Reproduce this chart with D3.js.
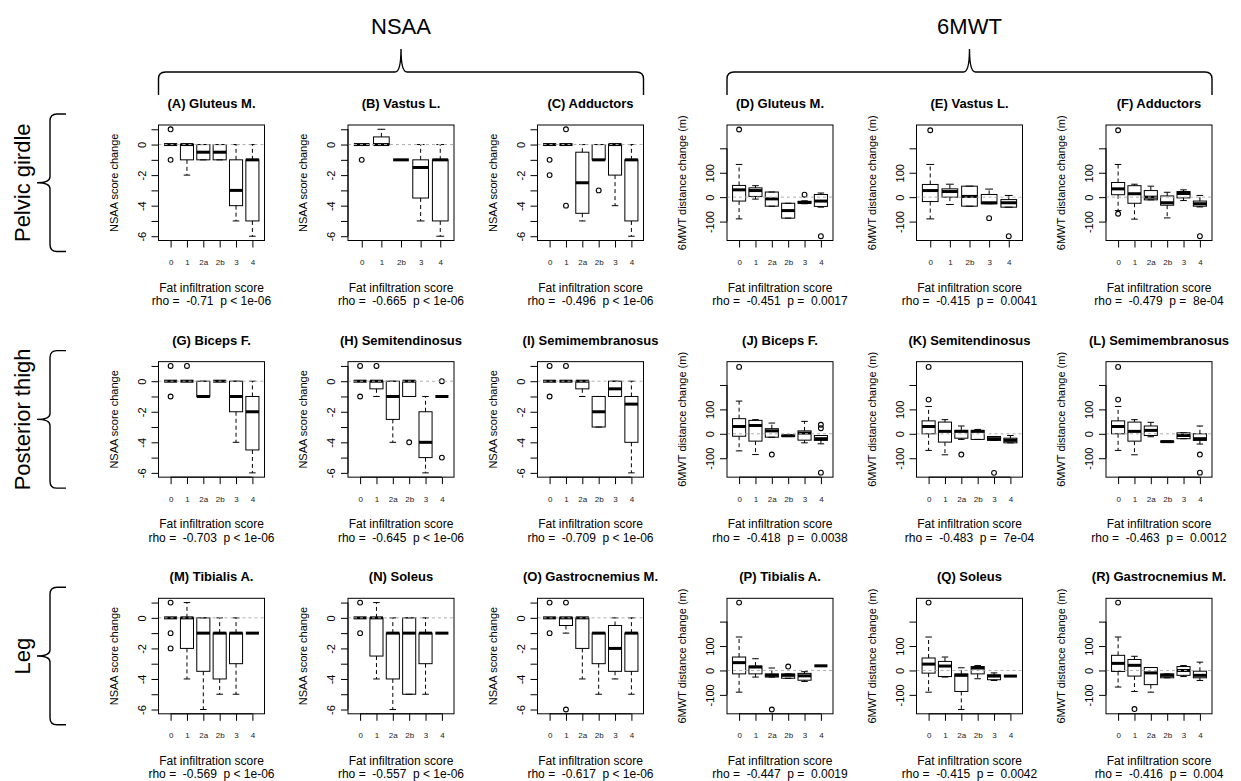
<!DOCTYPE html>
<html><head><meta charset="utf-8">
<script src="https://cdn.jsdelivr.net/npm/d3@7"></script>
<style>
body{margin:0;background:#fff}
svg{display:block}
text{font-family:"Liberation Sans",Arial,Helvetica,sans-serif;white-space:pre}
</style>
</head><body><svg id="chart" width="1241" height="781"></svg>
<script>
// ---------------- data ----------------
const cats6 = ["0","1","2a","2b","3","4"];
const cats5 = ["0","1","2b","3","4"];
const measures = ["NSAA","6MWT"];
const regions = ["Pelvic girdle","Posterior thigh","Leg"];
const nsaaTicks = [-6,-5,-4,-3,-2,-1,0,1];
const nsaaTickLabels = [-6,-4,-2,0];
const mwtTicks = [-100,0,100,200];
const mwtTickLabels = [-100,0,100];
const xTitle = "Fat infiltration score";

// boxes: [lower whisker, Q1, median, Q3, upper whisker]
const boxA = [[0,0,0,0,0],[-2,-1,0,0,0],[-1,-1,-0.5,0,0],[-1,-1,-0.5,0,0],[-5,-4,-3,-1,0],[-6,-5,-1,-1,0]];
const outA = [[1,-1],[],[],[],[],[]];
const boxB = [[0,0,0,0,0],[0,0,0,0.5,1],[-1,-1,-1,-1,-1],[-5,-3.5,-1.5,-1,0],[-6,-5,-1,-1,0]];
const outB = [[-1],[],[],[],[]];
const boxC = [[0,0,0,0,0],[0,0,0,0,0],[-5,-4.5,-2.5,-0.5,0],[-1,-1,-1,0,0],[-4,-2,0,0,0],[-6,-5,-1,-1,0]];
const outC = [[-1,-2],[1,-4],[],[-3],[],[]];
const boxD = [[-89,-16,30,48,134],[-8,3,27,38,47],[-37,-37,-7,21,21],[-86,-86,-55,-25,-25],[-27,-25,-22,-17,-15],[-41,-38,-16,11,17]];
const outD = [[277],[],[],[],[10],[-160]];
const boxE = [[-89,-18,27,52,134],[-30,0,23,34,53],[-37,-37,3,45,45],[-27,-27,-23,11,33],[-41,-41,-23,-10,7]];
const outE = [[274],[],[],[-86],[-160]];
const boxF = [[-55,10,34,60,134],[-90,-25,14,47,53],[-11,-11,0,27,45],[-85,-33,-23,5,20],[-14,-3,15,23,30],[-40,-37,-27,-16,7]];
const outF = [[274,-68],[],[],[],[],[-160]];

const boxG = [[0,0,0,0,0],[0,0,0,0,0],[-1,-1,-1,0,0],[0,0,0,0,0],[-4,-2,-1,0,0],[-6,-4.5,-2,-1,0]];
const outG = [[1,-1],[1],[],[],[],[]];
const boxH = [[0,0,0,0,0],[-1,-0.5,0,0,0],[-4,-2.5,-1,0,0],[-1,-1,0,0,0],[-6,-5,-4,-2,-1],[-1,-1,-1,-1,-1]];
const outH = [[1,-1],[1],[],[-4],[],[0,-5]];
const boxI = [[0,0,0,0,0],[0,0,0,0,0],[-1,-0.5,0,0,0],[-3,-3,-2,-1,-1],[-1,-1,-0.5,0,0],[-6,-4,-1.5,-1,0]];
const outI = [[1,-1],[1],[],[],[],[]];
const boxJ = [[-70,-10,30,62,134],[-85,-30,34,55,58],[-14,-14,12,21,44],[-10,-10,-8,-6,-6],[-37,-26,3,12,51],[-41,-27,-20,-7,-7]];
const outJ = [[274],[],[-85],[],[],[37,23,-159]];
const boxK = [[-68,0,30,53,112],[-86,-34,10,48,58],[-23,-18,10,14,32],[-23,-23,10,14,18],[-27,-27,-20,-11,-11],[-37,-37,-27,-18,-7]];
const outK = [[274,140],[],[-85],[],[-160],[]];
const boxL = [[-68,0,30,53,112],[-86,-30,10,48,58],[-12,-7,14,32,47],[-34,-34,-32,-30,-30],[-20,-20,-7,4,4],[-42,-27,-20,0,32]];
const outL = [[274,140],[],[],[],[],[-85,-159]];

const boxM = [[0,0,0,0,0],[-4,-2,0,0,1],[-6,-3.5,-1,0,0],[-5,-4,-1,-1,0],[-5,-3,-1,-1,0],[-1,-1,-1,-1,-1]];
const outM = [[1,-1,-2],[],[],[],[],[]];
const boxN = [[0,0,0,0,0],[-4,-2.5,0,0,1],[-6,-4,-1,-1,0],[-5,-5,-1,0,0],[-5,-3,-1,-1,0],[-1,-1,-1,-1,-1]];
const outN = [[1,-1],[],[],[],[],[]];
const boxO = [[0,0,0,0,0],[-1,-0.5,0,0,0],[-4,-2,0,0,0],[-5,-3,-1,-1,-1],[-4,-3.5,-2,-0.5,0],[-5,-3.5,-1,-1,0]];
const outO = [[1,-1],[1,-6],[],[],[],[]];
const boxP = [[-89,-14,32,55,137],[-27,-14,14,18,48],[-27,-27,-20,-14,10],[-32,-32,-20,-14,-14],[-45,-40,-22,-12,-5],[19,19,19,19,19]];
const outP = [[278],[],[-160],[16],[],[]];
const boxQ = [[-89,-11,26,51,137],[-27,-25,18,37,55],[-160,-86,-20,-14,11],[-34,-14,10,16,20],[-41,-38,-23,-18,-10],[-23,-23,-23,-23,-23]];
const outQ = [[278],[],[],[],[],[]];
const boxR = [[-68,-4,29,62,137],[-86,-23,21,45,58],[-89,-58,-10,12,12],[-30,-30,-20,-14,-14],[-25,-20,0,16,20],[-41,-30,-20,-3,34]];
const outR = [[278],[-158],[],[],[],[]];

const titles = ["(A) Gluteus M.","(B) Vastus L.","(C) Adductors","(D) Gluteus M.","(E) Vastus L.","(F) Adductors",
  "(G) Biceps F.","(H) Semitendinosus","(I) Semimembranosus","(J) Biceps F.","(K) Semitendinosus","(L) Semimembranosus",
  "(M) Tibialis A.","(N) Soleus","(O) Gastrocnemius M.","(P) Tibialis A.","(Q) Soleus","(R) Gastrocnemius M."];
const stats = ["rho =  -0.71  p < 1e-06","rho =  -0.665  p < 1e-06","rho =  -0.496  p < 1e-06",
  "rho =  -0.451  p =  0.0017","rho =  -0.415  p =  0.0041","rho =  -0.479  p =  8e-04",
  "rho =  -0.703  p < 1e-06","rho =  -0.645  p < 1e-06","rho =  -0.709  p < 1e-06",
  "rho =  -0.418  p =  0.0038","rho =  -0.483  p =  7e-04","rho =  -0.463  p =  0.0012",
  "rho =  -0.569  p < 1e-06","rho =  -0.557  p < 1e-06","rho =  -0.617  p < 1e-06",
  "rho =  -0.447  p =  0.0019","rho =  -0.415  p =  0.0042","rho =  -0.416  p =  0.004"];
const boxes = [boxA,boxB,boxC,boxD,boxE,boxF,boxG,boxH,boxI,boxJ,boxK,boxL,boxM,boxN,boxO,boxP,boxQ,boxR];
const outs  = [outA,outB,outC,outD,outE,outF,outG,outH,outI,outJ,outK,outL,outM,outN,outO,outP,outQ,outR];
const catSets = [cats6,cats5,cats6,cats6,cats5,cats6, cats6,cats6,cats6,cats6,cats6,cats6, cats6,cats6,cats6,cats6,cats6,cats6];

// ---------------- layout ----------------
const svg = d3.select("#chart");
const FONT = '"Liberation Sans",Arial,Helvetica,sans-serif';
const colX = c => 158.5 + c * 189.5;
const rowY = r => 125 + r * 236.65;
const BW = 106, BH = 115.5;

function ext(vals){ const lo=d3.min(vals), hi=d3.max(vals), p=(hi-lo)*0.04; return [lo-p, hi+p]; }
const allVals = m => {
  const v=[];
  boxes.forEach((b,i)=>{ if ((i%6<3)===(m===0)) { b.forEach(s=>v.push(...s)); outs[i].forEach(o=>v.push(...o)); } });
  return v;
};
const yDomains = [ext(allVals(0)), ext(allVals(1))];

// ---------------- header ----------------
function hBrace(x0,x1,yL,yE,yT){
  const xm=(x0+x1)/2, r=7, t=6;
  return `M${x0},${yE} L${x0},${yL+r} Q${x0},${yL} ${x0+r},${yL} L${xm-t},${yL} Q${xm},${yL} ${xm},${yT} Q${xm},${yL} ${xm+t},${yL} L${x1-r},${yL} Q${x1},${yL} ${x1},${yL+r} L${x1},${yE}`;
}
function vBrace(xL,y0,y1,xE,xT){
  const ym=(y0+y1)/2, r=7, t=6;
  return `M${xE},${y0} L${xL+r},${y0} Q${xL},${y0} ${xL},${y0+r} L${xL},${ym-t} Q${xL},${ym} ${xT},${ym} Q${xL},${ym} ${xL},${ym+t} L${xL},${y1-r} Q${xL},${y1} ${xL+r},${y1} L${xE},${y1}`;
}
measures.forEach((m,g)=>{
  const x0 = colX(g*3), x1 = colX(g*3+2)+BW;
  svg.append("path").attr("d", hBrace(x0,x1,72,95,49)).attr("fill","none").attr("stroke","#000").attr("stroke-width",1.4);
  svg.append("text").attr("x",(x0+x1)/2).attr("y",26).attr("text-anchor","middle").attr("dominant-baseline","central")
    .attr("font-size",22).text(m);
});
regions.forEach((name,r)=>{
  const y0 = rowY(r)-11, y1 = rowY(r)+BH+11;
  svg.append("path").attr("d", vBrace(50,y0,y1,66,37)).attr("fill","none").attr("stroke","#000").attr("stroke-width",1.4);
  svg.append("text").attr("transform",`translate(22,${(y0+y1)/2}) rotate(-90)`).attr("text-anchor","middle")
    .attr("dominant-baseline","central").attr("font-size",22).text(name);
});

// ---------------- panels ----------------
boxes.forEach((bx,i)=>{
  const r = Math.floor(i/6), c = i%6, m = c<3 ? 0 : 1;
  const cats = catSets[i], n = cats.length;
  const left = colX(c), top = rowY(r);
  const g = svg.append("g").attr("transform",`translate(${left},${top})`);
  const x = d3.scaleLinear().domain([0.5-0.04*n, n+0.5+0.04*n]).range([0,BW]);
  const y = d3.scaleLinear().domain(yDomains[m]).range([BH,0]);
  const ticks = m===0 ? nsaaTicks : mwtTicks;
  const labs = m===0 ? nsaaTickLabels : mwtTickLabels;

  // y axis
  const ya = g.append("g").call(d3.axisLeft(y).tickValues(ticks).tickSize(7).tickSizeOuter(0)
      .tickFormat(d => labs.includes(d) ? String(d) : ""));
  ya.select(".domain").remove();
  ya.selectAll("line").attr("stroke","#000");
  ya.selectAll("text").attr("x",0).attr("dy",null).attr("text-anchor","middle").attr("dominant-baseline","central")
    .attr("transform","translate(-17,0) rotate(-90)").attr("font-size",11).attr("font-family",FONT).attr("fill","#000");
  g.append("line").attr("x1",0).attr("x2",0).attr("y1",y(d3.min(ticks))).attr("y2",y(d3.max(ticks))).attr("stroke","#000");

  // x axis
  const xa = g.append("g").attr("transform",`translate(0,${BH})`)
    .call(d3.axisBottom(x).tickValues(d3.range(1,n+1)).tickSize(7).tickSizeOuter(0).tickFormat(d=>cats[d-1]));
  xa.select(".domain").remove();
  xa.selectAll("line").attr("stroke","#000");
  xa.selectAll("text").attr("y",22).attr("dy",null).attr("dominant-baseline","central")
    .attr("font-size",8).attr("font-family",FONT).attr("fill","#222");
  g.append("line").attr("x1",x(1)).attr("x2",x(n)).attr("y1",BH).attr("y2",BH).attr("stroke","#000");

  // boxes
  const hw = x(1.4)-x(1), cw = x(1.2)-x(1);
  bx.forEach((s,k)=>{
    const cx = x(k+1);
    const [lo,q1,md,q3,hi] = s;
    const bg = g.append("g");
    if (hi>q3) bg.append("line").attr("x1",cx).attr("x2",cx).attr("y1",y(q3)).attr("y2",y(hi))
      .attr("stroke","#000").attr("stroke-dasharray","4,3");
    if (lo<q1) bg.append("line").attr("x1",cx).attr("x2",cx).attr("y1",y(q1)).attr("y2",y(lo))
      .attr("stroke","#000").attr("stroke-dasharray","4,3");
    [lo,hi].forEach(v=>bg.append("line").attr("x1",cx-cw).attr("x2",cx+cw).attr("y1",y(v)).attr("y2",y(v)).attr("stroke","#000"));
    bg.append("rect").attr("x",cx-hw).attr("width",2*hw).attr("y",y(q3)).attr("height",Math.max(0,y(q1)-y(q3)))
      .attr("fill","none").attr("stroke","#000");
    bg.append("line").attr("x1",cx-hw).attr("x2",cx+hw).attr("y1",y(md)).attr("y2",y(md)).attr("stroke","#000").attr("stroke-width",3);
    outs[i][k].forEach(o=>bg.append("circle").attr("cx",cx).attr("cy",y(o)).attr("r",2.4)
      .attr("fill","none").attr("stroke","#000").attr("stroke-width",1.1));
  });

  // zero reference line
  g.append("line").attr("x1",0).attr("x2",BW).attr("y1",y(0)).attr("y2",y(0))
    .attr("stroke","#b0b0b0").attr("stroke-dasharray","3,3");
  // frame
  g.append("rect").attr("width",BW).attr("height",BH).attr("fill","none").attr("stroke","#000");

  // texts
  g.append("text").attr("x",BW/2).attr("y",-21.5).attr("text-anchor","middle").attr("dominant-baseline","central")
    .attr("font-size",13).attr("font-weight","bold").text(titles[i]);
  g.append("text").attr("transform",`translate(-45,${BH/2}) rotate(-90)`).attr("text-anchor","middle")
    .attr("dominant-baseline","central").attr("font-size",11).text(m===0?"NSAA score change":"6MWT distance change (m)");
  g.append("text").attr("x",BW/2).attr("y",BH+47).attr("text-anchor","middle").attr("dominant-baseline","central")
    .attr("font-size",12).text(xTitle);
  g.append("text").attr("x",BW/2).attr("y",BH+60.5).attr("text-anchor","middle").attr("dominant-baseline","central")
    .attr("font-size",12).text(stats[i]);
});
</script>
</body></html>
